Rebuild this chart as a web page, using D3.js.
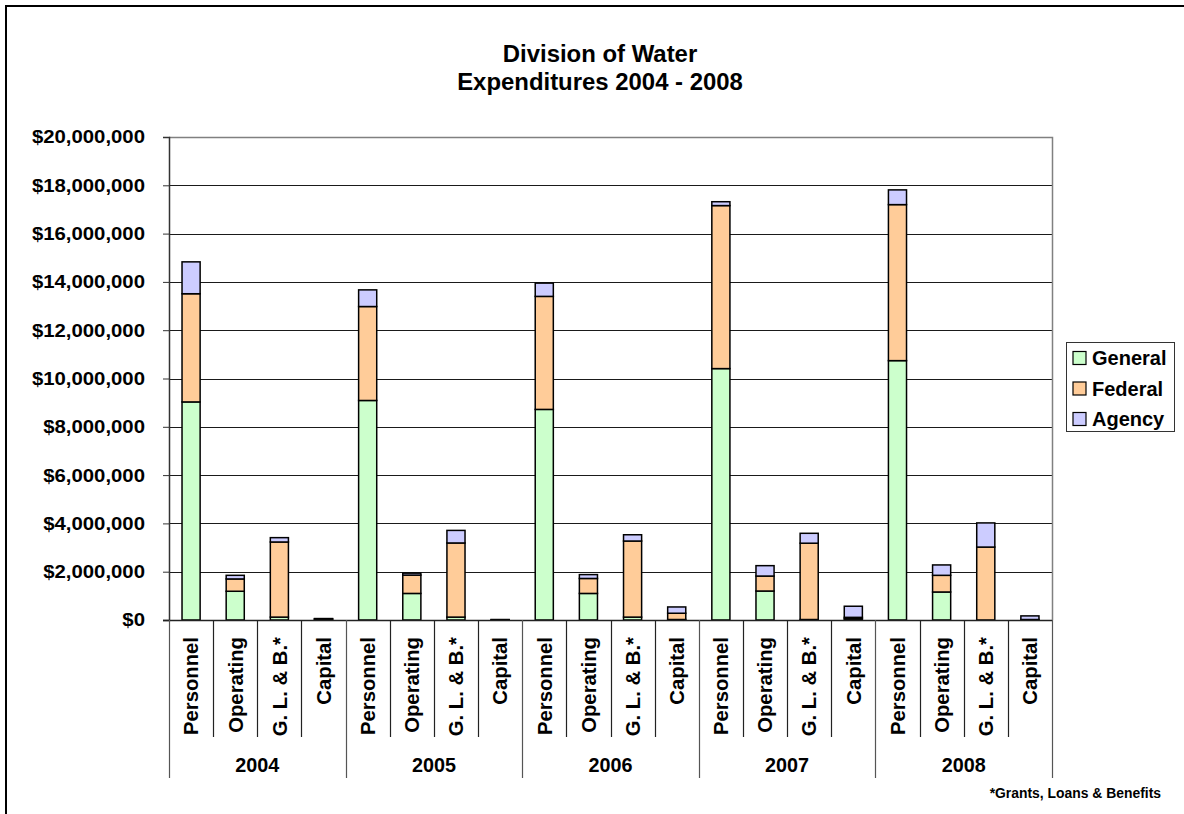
<!DOCTYPE html>
<html>
<head>
<meta charset="utf-8">
<script src="https://cdn.jsdelivr.net/npm/d3@7"></script>
<style>
  html, body { margin: 0; padding: 0; background: #fff; }
  svg { display: block; font-family: "Liberation Sans", Arial, sans-serif; font-weight: bold; }
</style>
</head>
<body>
<svg id="chart" width="1184" height="814"></svg>
<script>
// ---- data (values in dollars) ----
const years = ["2004", "2005", "2006", "2007", "2008"];
const categories = ["Personnel", "Operating", "G. L. & B.*", "Capital"];
const seriesNames = ["General", "Federal", "Agency"];
// values listed year by year: Personnel, Operating, G. L. & B., Capital
const general = [
  9030000, 1190000, 120000, 20000,
  9090000, 1100000, 120000, 10000,
  8720000, 1100000, 120000, 20000,
  10410000, 1200000, 20000, 50000,
  10740000, 1160000, 0, 20000
];
const federal = [
  4480000, 510000, 3110000, 30000,
  3890000, 760000, 3070000, 10000,
  4680000, 620000, 3150000, 260000,
  6750000, 620000, 3160000, 60000,
  6460000, 690000, 3020000, 0
];
const agency = [
  1320000, 150000, 180000, 10000,
  690000, 80000, 520000, 0,
  550000, 160000, 260000, 260000,
  160000, 430000, 410000, 460000,
  610000, 430000, 1000000, 150000
];
const yTicks = [0, 2000000, 4000000, 6000000, 8000000, 10000000, 12000000, 14000000, 16000000, 18000000, 20000000];
const colors = ["#CCFFCC", "#FFCC99", "#CCCCFF"];

// ---- build rows ----
const rows = [];
years.forEach((yr, yi) => categories.forEach((c, ci) => {
  const i = yi * 4 + ci;
  rows.push({ key: yr + "|" + c, year: yr, cat: c, General: general[i], Federal: federal[i], Agency: agency[i] });
}));

const svg = d3.select("#chart");
const L = 169, R = 1052, T = 137, B = 620;

// outer border
svg.append("rect").attr("x", 6).attr("y", 6).attr("width", 1300).attr("height", 1000)
  .attr("fill", "none").attr("stroke", "#000").attr("stroke-width", 2);

// title
const title = svg.append("text").attr("text-anchor", "middle").attr("font-size", 23).attr("fill", "#000")
  .attr("transform", "translate(600,0) scale(1.04,1)");
title.append("tspan").attr("x", 0).attr("y", 62).text("Division of Water");
title.append("tspan").attr("x", 0).attr("y", 90).text("Expenditures 2004 - 2008");

const x = d3.scaleBand().domain(rows.map(d => d.key)).range([L, R]).paddingInner(0.59).paddingOuter(0.295);
const y = d3.scaleLinear().domain([0, 20000000]).range([B, T]);

// gridlines
svg.append("g").selectAll("line").data(yTicks.filter(t => t > 0 && t < 20000000)).join("line")
  .attr("x1", L).attr("x2", R).attr("y1", d => Math.round(y(d)) + 0.5).attr("y2", d => Math.round(y(d)) + 0.5)
  .attr("stroke", "#1a1a1a").attr("stroke-width", 1);

// plot border top/right
svg.append("path").attr("d", `M${L},${T + 0.5}H${R + 0.5}V${B}`).attr("fill", "none")
  .attr("stroke", "#808080").attr("stroke-width", 1.5);

// y axis
const fmt = d => "$" + d3.format(",")(d);
const yAxis = d3.axisLeft(y).tickValues(yTicks).tickFormat(fmt).tickSize(6).tickPadding(18);
const ya = svg.append("g").attr("transform", `translate(${L},0)`).call(yAxis);
ya.select(".domain").attr("stroke", "#333").attr("stroke-width", 1.5);
ya.selectAll(".tick line").attr("stroke", "#333");
ya.selectAll(".tick text").attr("font-size", 18.5).attr("font-family", "Liberation Sans, Arial, sans-serif")
  .attr("font-weight", "bold").attr("fill", "#000")
  .attr("x", 0).attr("transform", "translate(-24,0) scale(1.1,1)");

// stacked bars
const stack = d3.stack().keys(seriesNames);
const stacked = stack(rows);
svg.append("g").selectAll("g").data(stacked).join("g")
  .attr("fill", (d, i) => colors[i])
  .selectAll("rect").data(d => d.filter(s => s[1] - s[0] > 0)).join("rect")
  .attr("x", d => x(d.data.key))
  .attr("width", x.bandwidth())
  .attr("y", d => y(d[1]))
  .attr("height", d => y(d[0]) - y(d[1]))
  .attr("stroke", "#000").attr("stroke-width", 1.5);

// x axis line
svg.append("line").attr("x1", L - 6).attr("x2", R).attr("y1", B + 0.5).attr("y2", B + 0.5)
  .attr("stroke", "#222").attr("stroke-width", 1.5);

// category separators
const step = x.step();
const bounds = d3.range(rows.length + 1);
svg.append("g").selectAll("line").data(bounds).join("line")
  .attr("x1", i => Math.round(L + i * step) + 0.5).attr("x2", i => Math.round(L + i * step) + 0.5)
  .attr("y1", B).attr("y2", i => (i % 4 === 0) ? 778 : 737)
  .attr("stroke", i => (i % 4 === 0) ? "#555" : "#222").attr("stroke-width", 1.2);

// category labels
svg.append("g").selectAll("text").data(rows).join("text")
  .attr("transform", d => `translate(${x(d.key) + x.bandwidth() / 2},637) rotate(-90)`)
  .attr("text-anchor", "end").attr("dy", "0.36em").attr("font-size", 20.3).attr("fill", "#000")
  .text(d => d.cat);

// year labels
svg.append("g").selectAll("text").data(years).join("text")
  .attr("x", (d, i) => L + (i * 4 + 2) * step).attr("y", 772)
  .attr("text-anchor", "middle").attr("font-size", 19.8).attr("fill", "#000")
  .text(d => d);

// legend
const lg = svg.append("g");
lg.append("rect").attr("x", 1066.5).attr("y", 342.5).attr("width", 108).attr("height", 89)
  .attr("fill", "#fff").attr("stroke", "#333").attr("stroke-width", 1);
seriesNames.forEach((s, i) => {
  const cy = 358 + i * 30.5;
  lg.append("rect").attr("x", 1073).attr("y", cy - 6.5).attr("width", 13).attr("height", 13)
    .attr("fill", colors[i]).attr("stroke", "#000").attr("stroke-width", 1.2);
  lg.append("text").attr("x", 1092).attr("y", cy + 7).attr("font-size", 20).attr("fill", "#000").text(s);
});

// footnote
svg.append("text").attr("x", 1161).attr("y", 798).attr("text-anchor", "end")
  .attr("font-size", 13.9).attr("fill", "#000").text("*Grants, Loans & Benefits");
</script>
</body>
</html>
